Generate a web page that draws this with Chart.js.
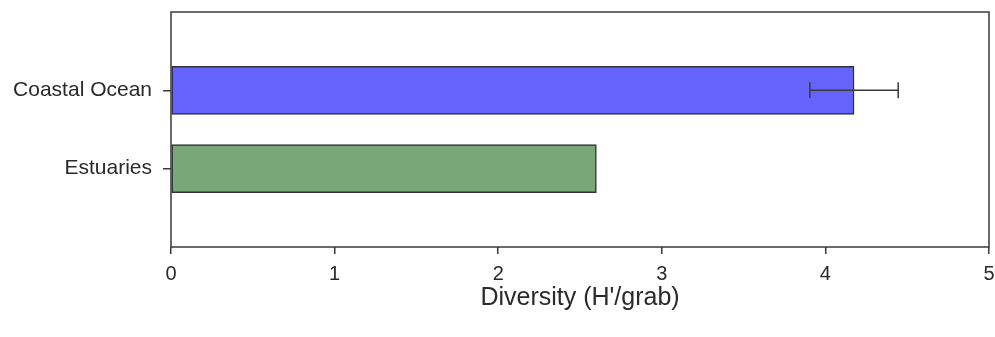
<!DOCTYPE html>
<html>
<head>
<meta charset="utf-8">
<script src="https://cdn.jsdelivr.net/npm/chart.js@4"></script>
<style>
    html, body { margin: 0; padding: 0; background: #fff; }
    #wrap { width: 995px; height: 337px; }
</style>
</head>
<body>
<div id="wrap"><canvas id="diversityChart" width="995" height="337"></canvas></div>
<script>
const categories = ['Coastal Ocean', 'Estuaries'];
const diversity = [4.175, 2.60];
const stdErr = [0.27, null];
const xTicks = [0, 1, 2, 3, 4, 5];
const barColors = ['#6464fc', '#78a778'];

const AXIS = '#3a3a3a';

// blank slots above and below so the bars sit at 1/3 and 2/3 of the height
const yLabels = ['', ...categories, ''];

// box around the plot area
const frame = {
    id: 'frame',
    afterDraw(chart) {
        const { ctx, chartArea: a } = chart;
        ctx.save();
        ctx.strokeStyle = AXIS;
        ctx.lineWidth = 1.5;
        ctx.strokeRect(a.left, a.top, a.right - a.left, a.bottom - a.top);
        ctx.restore();
    }
};

// error bars drawn from the data values
const errorBars = {
    id: 'errorBars',
    afterDatasetsDraw(chart) {
        const { ctx, scales } = chart;
        ctx.save();
        ctx.strokeStyle = AXIS;
        ctx.lineWidth = 1.5;
        diversity.forEach((v, i) => {
            if (stdErr[i] == null) return;
            const y = scales.y.getPixelForValue(i + 1);
            const x1 = scales.x.getPixelForValue(v - stdErr[i]);
            const x2 = scales.x.getPixelForValue(v + stdErr[i]);
            ctx.beginPath();
            ctx.moveTo(x1, y); ctx.lineTo(x2, y);
            ctx.moveTo(x1, y - 8); ctx.lineTo(x1, y + 8);
            ctx.moveTo(x2, y - 8); ctx.lineTo(x2, y + 8);
            ctx.stroke();
        });
        ctx.restore();
    }
};

const ctx = document.getElementById('diversityChart').getContext('2d');
new Chart(ctx, {
    type: 'bar',
    data: {
        labels: yLabels,
        datasets: [{
            data: [null, ...diversity, null],
            backgroundColor: [null, ...barColors, null],
            borderColor: '#2e2e3a',
            borderWidth: 1.5,
            borderSkipped: false,
            barThickness: 48
        }]
    },
    options: {
        indexAxis: 'y',
        responsive: false,
        animation: false,
        layout: { padding: { top: 12, right: 6, left: 0, bottom: 0 } },
        plugins: { legend: { display: false }, tooltip: { enabled: false } },
        scales: {
            x: {
                type: 'linear',
                min: 0,
                max: 5,
                afterBuildTicks: s => { s.ticks = xTicks.map(v => ({ value: v })); },
                afterFit: s => { s.height = 90; s.paddingLeft = 0; s.paddingRight = 0; },
                grid: { drawOnChartArea: false, color: AXIS, tickLength: 7, lineWidth: 1.5 },
                border: { display: false },
                ticks: {
                    color: '#2a2a2a',
                    padding: 8,
                    font: { family: 'Liberation Sans', size: 20 }
                },
                title: {
                    display: true,
                    text: "Diversity (H'/grab)",
                    color: '#2a2a2a',
                    font: { family: 'Liberation Sans', size: 25 },
                    padding: { top: 4, bottom: 24 }
                }
            },
            y: {
                type: 'category',
                offset: false,
                afterFit: s => { s.width = 171; s.paddingTop = 0; s.paddingBottom = 0; },
                grid: {
                    offset: false,
                    drawOnChartArea: false,
                    tickLength: 8,
                    lineWidth: 1.5,
                    tickColor: c => (yLabels[c.index] ? AXIS : 'rgba(0,0,0,0)')
                },
                border: { display: false },
                ticks: {
                    color: '#2a2a2a',
                    padding: 11,
                    font: { family: 'Liberation Sans', size: 21 }
                }
            }
        }
    },
    plugins: [frame, errorBars]
});
</script>
</body>
</html>
